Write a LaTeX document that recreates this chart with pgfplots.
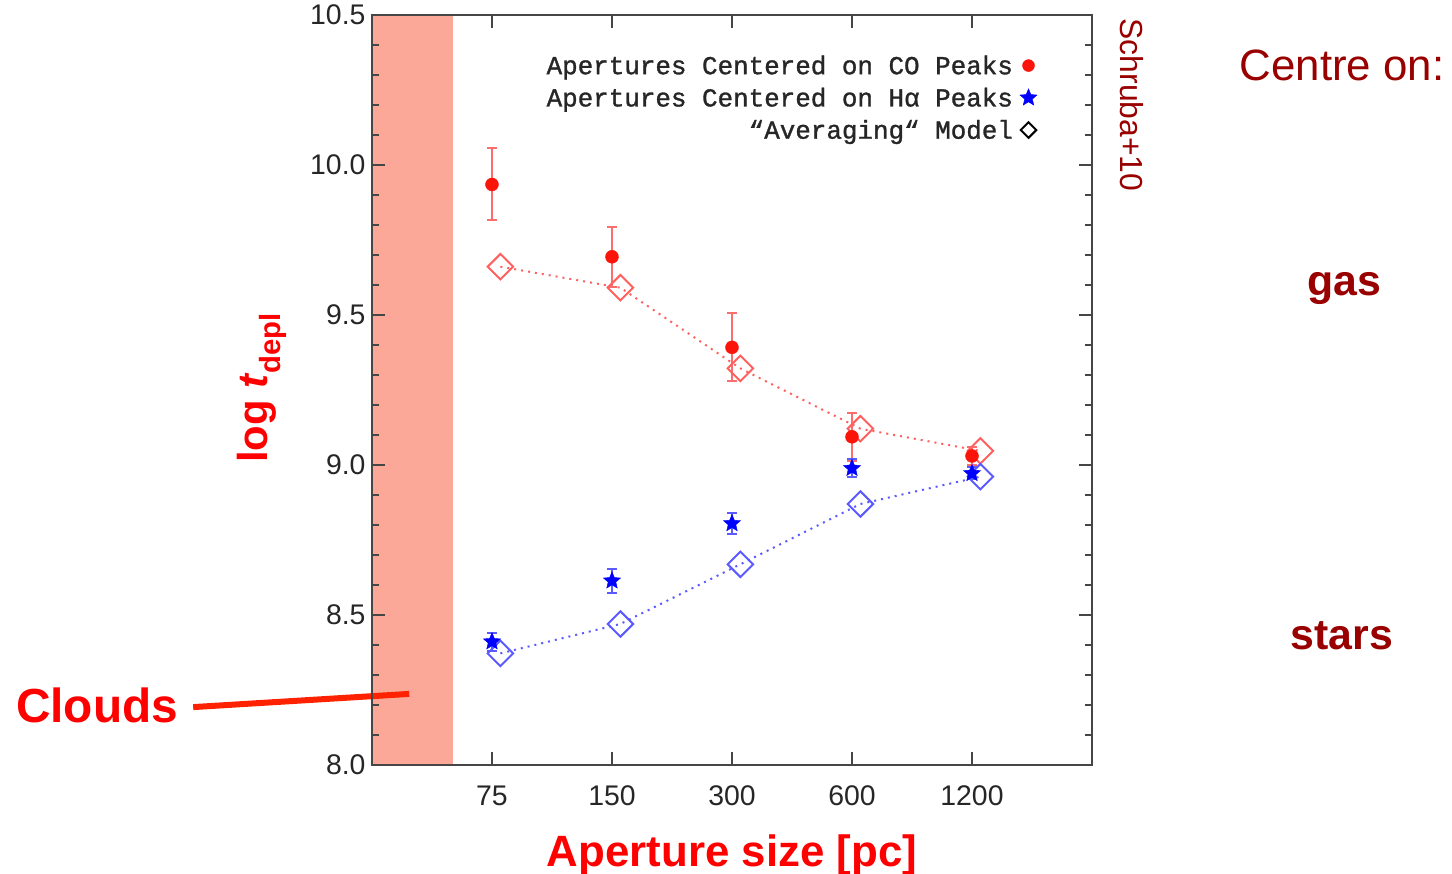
\documentclass[border=0pt]{standalone}
\usepackage{pgfplots}
\pgfplotsset{compat=1.18}
\usepackage{fontspec}
\setmainfont{Liberation Sans}
\newfontfamily\legfont[FakeBold=1.2]{Liberation Mono}
\definecolor{band}{RGB}{252,168,152}
\definecolor{dred}{RGB}{153,0,0}
\definecolor{ptred}{RGB}{250,20,10}
\definecolor{errred}{RGB}{250,110,110}
\definecolor{dmred}{RGB}{255,95,95}
\definecolor{dmblue}{RGB}{90,90,255}
\definecolor{axgray}{RGB}{70,70,70}
\definecolor{linered}{RGB}{255,34,0}

\pgfdeclareplotmark{fstar}{%
  \pgfpathmoveto{\pgfpointpolar{90}{\pgfplotmarksize}}%
  \pgfpathlineto{\pgfpointpolar{126}{0.45\pgfplotmarksize}}%
  \pgfpathlineto{\pgfpointpolar{162}{\pgfplotmarksize}}%
  \pgfpathlineto{\pgfpointpolar{198}{0.45\pgfplotmarksize}}%
  \pgfpathlineto{\pgfpointpolar{234}{\pgfplotmarksize}}%
  \pgfpathlineto{\pgfpointpolar{270}{0.45\pgfplotmarksize}}%
  \pgfpathlineto{\pgfpointpolar{306}{\pgfplotmarksize}}%
  \pgfpathlineto{\pgfpointpolar{342}{0.45\pgfplotmarksize}}%
  \pgfpathlineto{\pgfpointpolar{18}{\pgfplotmarksize}}%
  \pgfpathlineto{\pgfpointpolar{54}{0.45\pgfplotmarksize}}%
  \pgfpathclose
  \pgfusepathqfillstroke}

\pgfplotstableread{
x y e
0 9.935 0.12
1 9.694 0.10
2 9.392 0.113
3 9.094 0.08
4 9.030 0.03
}\cotab
\pgfplotstableread{
x y e
0 8.411 0.03
1 8.614 0.04
2 8.805 0.035
3 8.989 0.03
4 8.972 0.02
}\hatab
\pgfplotstableread{
x y
0.07 9.661
1.07 9.591
2.07 9.322
3.07 9.121
4.07 9.047
}\gasmodel
\pgfplotstableread{
x y
0.07 8.372
1.07 8.470
2.07 8.669
3.07 8.870
4.07 8.961
}\starmodel

\begin{document}
\begin{tikzpicture}
\useasboundingbox (-372bp,-109bp) rectangle (1080bp,765bp);
\begin{axis}[
  at={(0,0)}, anchor=south west,
  scale only axis, width=720bp, height=750bp,
  xmin=-1, xmax=5, ymin=8, ymax=10.5,
  clip=false, axis on top=true,
  xtick={0,1,2,3,4}, xticklabels={75,150,300,600,1200},
  ytick={8,8.5,9,9.5,10,10.5},
  minor y tick num=4,
  tick align=inside,
  major tick length=13bp, minor tick length=7bp,
  axis line style={axgray, line width=2bp},
  every tick/.style={axgray, line width=1.6bp},
  /pgf/number format/assume math mode=true,
  yticklabel style={/pgf/number format/fixed, /pgf/number format/fixed zerofill, /pgf/number format/precision=1, xshift=-3bp},
  ticklabel style={font=\fontsize{28.5}{28.5}\selectfont, text=black!85},
  xticklabel style={yshift=-17bp},
  xlabel={\textbf{Aperture size [pc]}},
  xlabel style={at={(axis description cs:0.5,-0.12)}, anchor=center, font=\fontsize{44}{44}\selectfont, text=red},
  ylabel={\textbf{log \textit{t}\textsubscript{depl}}},
  ylabel style={at={(axis description cs:-0.153,0.503)}, anchor=center, rotate=0, font=\fontsize{42}{42}\selectfont, text=red},
  legend plot pos=right,
  legend cell align=right,
  legend style={draw=none, fill=none, at={(axis description cs:0.924,0.949)}, anchor=north east,
    font=\legfont\fontsize{26}{31}\selectfont, text=black!85, inner sep=0pt, row sep=8bp,
    /tikz/every odd column/.append style={column sep=5bp},
    /tikz/every even column/.append style={column sep=0bp}},
]
% Cloud band
\addplot[fill=band, draw=none, forget plot] coordinates {(-1,8) (-0.325,8) (-0.325,10.5) (-1,10.5)} -- cycle;

% legend images
\addlegendimage{only marks, mark=*, color=ptred, mark size=6bp}
\addlegendentry{Apertures Centered on CO Peaks}
\addlegendimage{only marks, mark=fstar, color=blue, mark size=9bp}
\addlegendentry{Apertures Centered on Hα Peaks}
\addlegendimage{only marks, mark=square, mark options={rotate=45, line width=2bp}, color=black, mark size=5.5bp}
\addlegendentry{“Averaging“ Model}

% model lines
\addplot[forget plot, dmred, line width=2bp, dash pattern=on 2bp off 5bp,
  mark=square, mark size=9bp, mark options={rotate=45, solid, line width=2bp, fill=none}] table[x=x,y=y] {\gasmodel};
\addplot[forget plot, dmblue, line width=2bp, dash pattern=on 2bp off 5bp,
  mark=square, mark size=9bp, mark options={rotate=45, solid, line width=2bp, fill=none}] table[x=x,y=y] {\starmodel};

% data
\addplot[forget plot, only marks, mark=*, color=ptred, mark size=6.5bp,
  error bars/.cd, y dir=both, y explicit,
  error bar style={errred, line width=2.5bp},
  error mark options={rotate=90, errred, mark size=5bp, line width=2bp}]
  table[x=x, y=y, y error=e] {\cotab};
\addplot[forget plot, only marks, mark=fstar, color=blue, mark size=9bp,
  error bars/.cd, y dir=both, y explicit,
  error bar style={dmblue, line width=2.5bp},
  error mark options={rotate=90, dmblue, mark size=5bp, line width=2bp}]
  table[x=x, y=y, y error=e] {\hatab};

% annotations
\node[font=\bfseries\fontsize{48}{48}\selectfont, text=red] at (axis cs:-3.29,8.2) {Clouds};
\draw[linered, line width=6bp] (axis cs:-2.49,8.193) -- (axis cs:-0.69,8.237);
\node[font=\fontsize{32}{32}\selectfont, text=dred, rotate=-90] at (axis cs:5.333,10.2) {Schruba+10};
\node[font=\fontsize{44}{44}\selectfont, text=dred] at (axis cs:7.083,10.333) {Centre on:};
\node[font=\bfseries\fontsize{43}{43}\selectfont, text=dred] at (axis cs:7.1,9.587) {gas};
\node[font=\bfseries\fontsize{43}{43}\selectfont, text=dred] at (axis cs:7.083,8.43) {stars};
\end{axis}
\end{tikzpicture}
\end{document}
